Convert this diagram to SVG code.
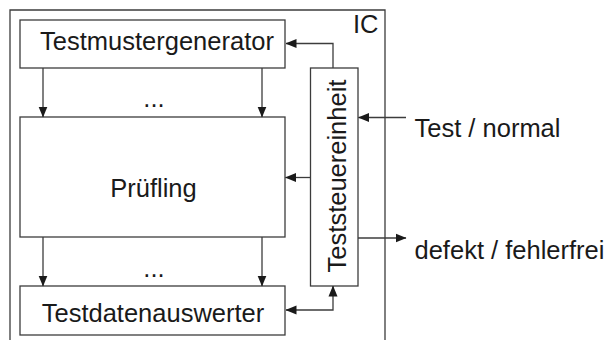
<svg xmlns="http://www.w3.org/2000/svg" width="604" height="340" viewBox="0 0 604 340">
<style>
.box{fill:#fff;stroke:#3c3c3c;stroke-width:1.3}
.ln{fill:none;stroke:#3c3c3c;stroke-width:1.3}
.t{font-family:"Liberation Sans",Arial,sans-serif;font-size:25.5px;fill:#1a1a1a}
.m{text-anchor:middle}
</style>
<defs>
<marker id="ah" markerUnits="userSpaceOnUse" markerWidth="11" markerHeight="10" refX="10.5" refY="4.5" orient="auto-start-reverse" viewBox="0 0 11 9">
<path d="M0,0 L11,4.5 L0,9 z" fill="#1a1a1a"/>
</marker>
</defs>
<rect width="604" height="340" fill="#fff"/>
<g id="ic">
<path class="ln" d="M10,340 V10 H385 V340"/>
<text class="t" x="353" y="33">IC</text>
</g>
<g id="testmustergenerator">
<rect class="box" x="20" y="20" width="265" height="48"/>
<text class="t m" x="157" y="50">Testmustergenerator</text>
</g>
<g id="pruefling">
<rect class="box" x="20" y="117" width="265" height="120"/>
<text class="t m" x="153.5" y="197">Prüfling</text>
</g>
<g id="testdatenauswerter">
<rect class="box" x="20" y="286" width="265" height="49"/>
<text class="t m" x="153" y="322">Testdatenauswerter</text>
</g>
<g id="teststeuereinheit">
<rect class="box" x="310.5" y="68" width="47.5" height="218"/>
<text class="t m" transform="translate(346,176) rotate(-90)">Teststeuereinheit</text>
</g>
<g id="labels">
<text class="t" x="154" y="107" text-anchor="middle">...</text>
<text class="t" x="154" y="277" text-anchor="middle">...</text>
<text class="t" x="414.5" y="137">Test / normal</text>
<text class="t" x="414.5" y="259">defekt / fehlerfrei</text>
</g>
<g id="connectors">
<path class="ln" d="M43,68 V117" marker-end="url(#ah)"/>
<path class="ln" d="M262,68 V117" marker-end="url(#ah)"/>
<path class="ln" d="M43,237 V286" marker-end="url(#ah)"/>
<path class="ln" d="M262,237 V286" marker-end="url(#ah)"/>
<path class="ln" d="M333,68 V43.5 H286" marker-end="url(#ah)"/>
<path class="ln" d="M406,117.5 H358.5" marker-end="url(#ah)"/>
<path class="ln" d="M310.5,177.5 H285.5" marker-end="url(#ah)"/>
<path class="ln" d="M358,238 H406" marker-end="url(#ah)"/>
<path class="ln" d="M286,310 H333 V286" marker-start="url(#ah)" marker-end="url(#ah)"/>
</g>
</svg>
